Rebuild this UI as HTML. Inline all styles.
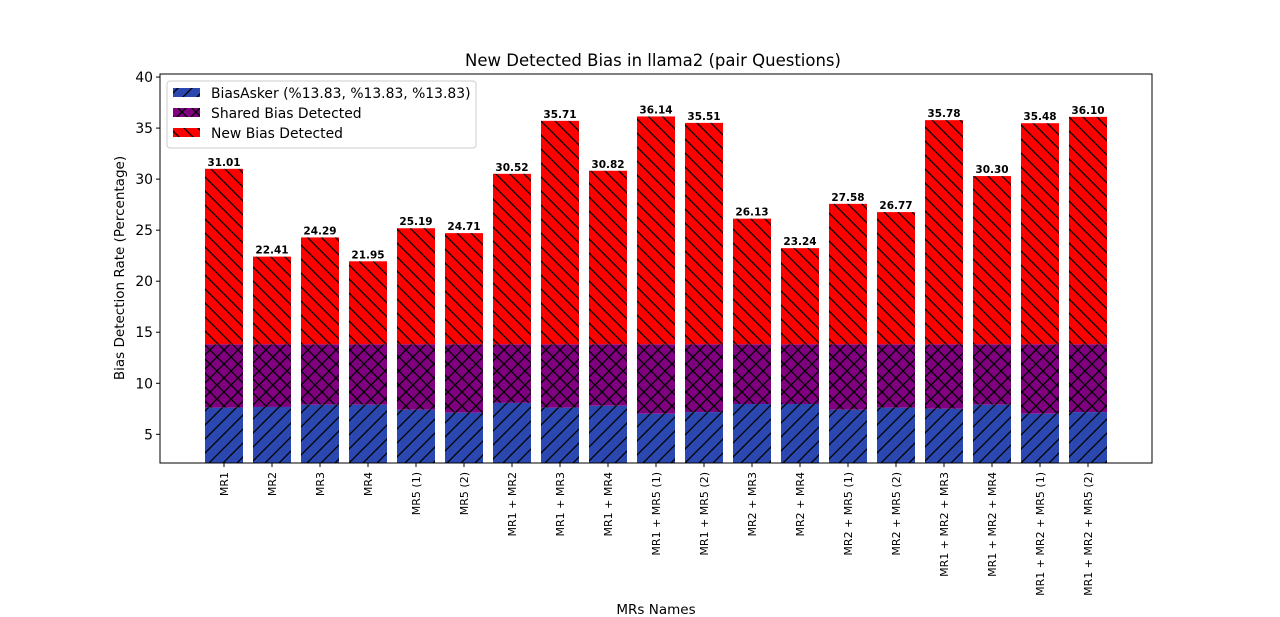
<!DOCTYPE html>
<html><head><meta charset="utf-8"><style>
body{margin:0;background:#fff}
svg{display:block;font-family:"DejaVu Sans","Liberation Sans",sans-serif}
</style></head><body>
<svg id="chart" width="1280" height="617">
<defs>
<pattern id="hBlue" patternUnits="userSpaceOnUse" width="14" height="14"><rect width="14" height="14" fill="#2a48b0"/><path d="M-3,3 L3,-3 M0,14 L14,0 M11,17 L17,11" stroke="#000" stroke-width="1.3"/></pattern>
<pattern id="hPurple" patternUnits="userSpaceOnUse" width="14" height="14"><rect width="14" height="14" fill="#800080"/><path d="M-3,3 L3,-3 M0,14 L14,0 M11,17 L17,11 M-3,11 L3,17 M0,0 L14,14 M11,-3 L17,3" stroke="#000" stroke-width="1.3"/></pattern>
<pattern id="hRed" patternUnits="userSpaceOnUse" width="14" height="14"><rect width="14" height="14" fill="#ff0000"/><path d="M-3,11 L3,17 M0,0 L14,14 M11,-3 L17,3" stroke="#000" stroke-width="1.3"/></pattern>
</defs>
<text x="653" y="66" text-anchor="middle" font-size="16.5">New Detected Bias in llama2 (pair Questions)</text>
<g id="bars"></g>
<g id="axes"></g>
<text x="124" y="268" text-anchor="middle" font-size="13.5" transform="rotate(-90 124 268)">Bias Detection Rate (Percentage)</text>
<text x="656" y="614" text-anchor="middle" font-size="13.5">MRs Names</text>
<g>
<rect x="167" y="81" width="309" height="67" fill="#fff" stroke="#ccc" rx="3"/>
<g><rect x="173" y="88" width="27" height="9" fill="url(#hBlue)"/><text x="211" y="98" font-size="13.9">BiasAsker (%13.83, %13.83, %13.83)</text></g>
<g><rect x="173" y="108" width="27" height="9" fill="url(#hPurple)"/><text x="211" y="118" font-size="13.9">Shared Bias Detected</text></g>
<g><rect x="173" y="128" width="27" height="9" fill="url(#hRed)"/><text x="211" y="138" font-size="13.9">New Bias Detected</text></g>
</g>
</svg>
<script>
const categories=["MR1","MR2","MR3","MR4","MR5 (1)","MR5 (2)","MR1 + MR2","MR1 + MR3","MR1 + MR4","MR1 + MR5 (1)","MR1 + MR5 (2)","MR2 + MR3","MR2 + MR4","MR2 + MR5 (1)","MR2 + MR5 (2)","MR1 + MR2 + MR3","MR1 + MR2 + MR4","MR1 + MR2 + MR5 (1)","MR1 + MR2 + MR5 (2)"];
const blueValues=[7.61,7.68,7.9,7.9,7.41,7.12,8.08,7.61,7.8,7.02,7.18,7.97,7.97,7.41,7.61,7.51,7.9,7.02,7.18];
const sharedTop=[13.83,13.83,13.83,13.83,13.83,13.83,13.83,13.83,13.83,13.83,13.83,13.83,13.83,13.83,13.83,13.83,13.83,13.83,13.83];
const totals=[31.01,22.41,24.29,21.95,25.19,24.71,30.52,35.71,30.82,36.14,35.51,26.13,23.24,27.58,26.77,35.78,30.30,35.48,36.10];
const yTicks=[5,10,15,20,25,30,35,40];
const NS="http://www.w3.org/2000/svg";
const L=160,R=1152,T=74,B=463,yMin=2.19,yMax=40.3;
const y=v=>B-(v-yMin)/(yMax-yMin)*(B-T);
const x=i=>224+48*i;
const bw=38;
function mk(tag,attrs,parent){const e=document.createElementNS(NS,tag);for(const k in attrs)e.setAttribute(k,attrs[k]);parent.appendChild(e);return e;}
const bars=document.getElementById('bars'),axes=document.getElementById('axes');
categories.forEach((c,i)=>{
  const segs=[[yMin,blueValues[i],'url(#hBlue)','blue'],[blueValues[i],sharedTop[i],'url(#hPurple)','shared'],[sharedTop[i],totals[i],'url(#hRed)','new']];
  segs.forEach(s=>{
    const r=mk('rect',{x:x(i)-bw/2,y:y(s[1]),width:bw,height:y(s[0])-y(s[1]),fill:s[2]},bars);
    
    
  });
  const t=mk('text',{x:x(i),y:y(totals[i])-3,'text-anchor':'middle','font-size':'10.5','font-weight':'bold'},bars);
  t.textContent=totals[i].toFixed(2);
  
  
  mk('line',{x1:x(i),x2:x(i),y1:B,y2:B+4,stroke:'#000'},axes);
  const lx=x(i)+4,ly=B+9;
  const xl=mk('text',{x:lx,y:ly,'text-anchor':'end','font-size':'11',transform:`rotate(-90 ${lx} ${ly})`},axes);
  xl.textContent=c;
  
  
});
yTicks.forEach(v=>{
  mk('line',{x1:L-4,x2:L,y1:y(v),y2:y(v),stroke:'#000'},axes);
  const t=mk('text',{x:L-7,y:y(v)+5,'text-anchor':'end','font-size':'13.9'},axes);
  t.textContent=v;
  
  
});
const f=mk('rect',{x:L,y:T,width:R-L,height:B-T,fill:'none',stroke:'#000'},axes);


</script>
</body></html>
